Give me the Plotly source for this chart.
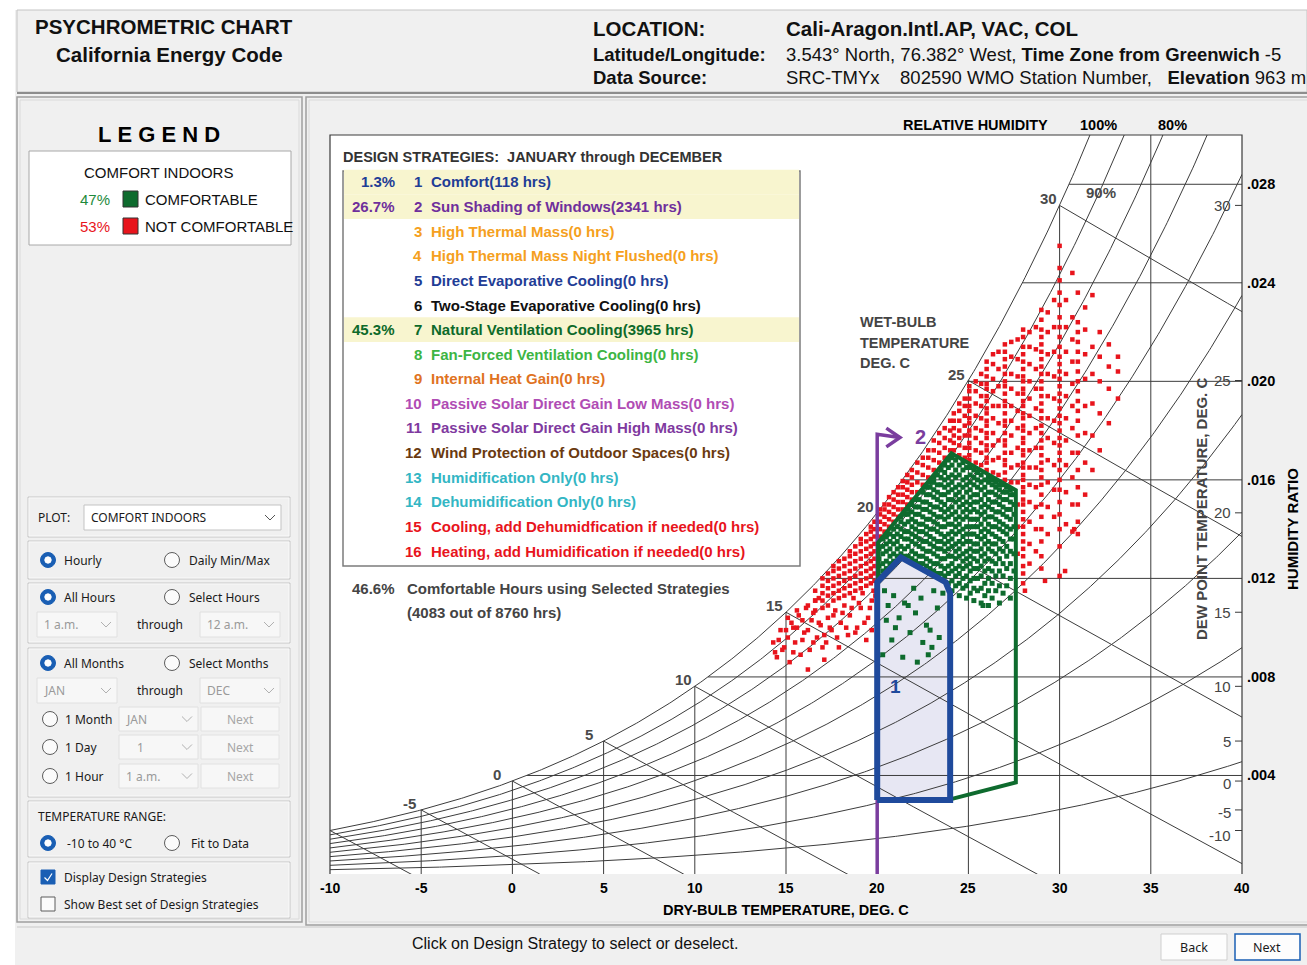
import numpy as np
import plotly.graph_objects as go

FIG_W, FIG_H = 1307, 965
PRESSURE_KPA = 101.325
FONT = "Liberation Sans, Arial, sans-serif"
UI_FONT = "Noto Sans, Liberation Sans, sans-serif"

# ---------------- chart scales ----------------
T_RANGE = [-10, 40]          # dry bulb, deg C
W_RANGE = [0, 30]            # humidity ratio, g/kg
dry_bulb_ticks = [-10, -5, 0, 5, 10, 15, 20, 25, 30, 35, 40]
humidity_ticks = [4, 8, 12, 16, 20, 24, 28]
humidity_tick_text = ['.004', '.008', '.012', '.016', '.020', '.024', '.028']
rh_levels = [0.1, 0.2, 0.3, 0.4, 0.5, 0.6, 0.7, 0.8, 0.9, 1.0]
wet_bulb_levels = [-10, -5, 0, 5, 10, 15, 20, 25, 30]
wet_bulb_labels = [-5, 0, 5, 10, 15, 20, 25, 30]
wet_bulb_label_shift = [-3, -9, -9, -1, -1, -1, -1, -1]
dew_point_levels = [30, 25, 20, 15, 10, 5, 0, -5, -10]
dew_point_label_shift = [0, 0, 0, 0, 0, 0, -2, -3, -5]

# ---------------- design strategies ----------------
strategy_pct = ['1.3%', '26.7%', '', '', '', '', '45.3%', '', '', '', '', '', '', '', '', '']
strategy_names = ['Comfort(118 hrs)', 'Sun Shading of Windows(2341 hrs)', 'High Thermal Mass(0 hrs)',
                  'High Thermal Mass Night Flushed(0 hrs)', 'Direct Evaporative Cooling(0 hrs)',
                  'Two-Stage Evaporative Cooling(0 hrs)', 'Natural Ventilation Cooling(3965 hrs)',
                  'Fan-Forced Ventilation Cooling(0 hrs)', 'Internal Heat Gain(0 hrs)',
                  'Passive Solar Direct Gain Low Mass(0 hrs)', 'Passive Solar Direct Gain High Mass(0 hrs)',
                  'Wind Protection of Outdoor Spaces(0 hrs)', 'Humidification Only(0 hrs)',
                  'Dehumidification Only(0 hrs)', 'Cooling, add Dehumidfication if needed(0 hrs)',
                  'Heating, add Humidification if needed(0 hrs)']
strategy_colors = ['#1f3d96', '#6f2f9c', '#f5a020', '#f5a020', '#1f3d96', '#111111', '#0d6a2a',
                   '#3db544', '#e0731f', '#b04cb4', '#7f3aa0', '#6a3a10', '#33b6c4', '#33b6c4',
                   '#e8141c', '#e8141c']
strategy_highlight = [1, 2, 7]

# ---------------- zones (dry bulb deg C, humidity ratio g/kg) ----------------
comfort_zone_t = [20.0, 20.0, 21.3, 23.75, 24.0, 24.0, 20.0]
comfort_zone_w = [3.0, 11.85, 12.85, 11.85, 11.4, 3.0, 3.0]
vent_zone_t = [24.1, 27.6, 27.6, 24.07, 20.05, 20.05]
vent_zone_w = [3.05, 3.72, 15.58, 17.08, 13.45, 11.9]
shading_t = 20.0
shading_top_w = 17.85
shading_arrow_t = [20.0, 21.22]
shading_head_t = [20.5, 21.25, 20.5]
shading_head_w = [18.1, 17.72, 17.34]

# ---------------- hourly points ----------------
red_upper = [
    (24.2, [17.2, 17.5, 17.8, 18.1, 18.4, 18.7]),
    (24.5, [17.0, 17.4, 17.7, 18.0, 18.4, 18.8, 19.1]),
    (24.8, [16.9, 17.3, 17.8, 18.2, 18.6, 19.0, 19.3]),
    (25.05, [16.8, 17.0, 17.3, 17.5, 17.8, 18.0, 18.3, 18.5, 18.8, 19.0, 19.3, 19.6, 19.8]),
    (25.4, [16.7, 17.2, 17.7, 18.1, 18.6, 19.1, 19.6, 20.0]),
    (25.7, [16.6, 17.1, 17.5, 18.0, 18.5, 19.0, 19.4, 19.9, 20.3]),
    (26.0, [16.4, 16.7, 16.9, 17.2, 17.4, 17.7, 17.9, 18.2, 18.4, 18.7, 18.9, 19.2, 19.4, 19.7, 19.9,
            20.2, 20.5, 20.8]),
    (26.35, [16.3, 16.8, 17.4, 17.9, 18.5, 19.0, 19.6, 20.1, 20.7, 21.1]),
    (26.65, [16.2, 16.9, 17.6, 18.3, 19.0, 19.8, 20.5, 21.2]),
    (27.0, [16.0, 16.3, 16.6, 16.8, 17.1, 17.4, 17.6, 17.9, 18.2, 18.4, 18.7, 19.0, 19.2, 19.5, 19.8,
            20.0, 20.3, 20.6, 20.9, 21.2, 21.5]),
    (27.35, [15.9, 16.5, 17.1, 17.8, 18.4, 19.0, 19.7, 20.3, 21.0, 21.6]),
    (27.7, [13.0, 14.1, 15.0, 15.9, 16.6, 17.3, 18.1, 18.8, 19.5, 20.2, 20.9, 21.7]),
    (28.0, [11.8, 12.2, 12.5, 12.9, 13.2, 13.5, 13.8, 14.1, 14.4, 14.7, 15.0, 15.2, 15.5, 15.7, 16.0,
            16.2, 16.5, 16.7, 17.0, 17.2, 17.5, 17.7, 18.0, 18.2, 18.5, 18.7, 19.0, 19.2, 19.5, 19.7,
            20.0, 20.2, 20.5, 20.8, 21.1, 21.4, 21.8, 22.1]),
    (28.35, [12.6, 13.4, 14.3, 15.1, 15.8, 16.5, 17.2, 17.9, 18.6, 19.3, 20.0, 20.7, 21.4, 22.0]),
    (28.7, [13.1, 14.0, 14.9, 15.7, 16.5, 17.3, 18.1, 18.9, 19.7, 20.5, 21.3, 22.2]),
    (29.0, [12.4, 12.9, 13.5, 14.0, 14.5, 15.0, 15.4, 15.8, 16.1, 16.4, 16.7, 17.0, 17.3, 17.6, 17.9,
            18.2, 18.5, 18.8, 19.1, 19.4, 19.7, 20.0, 20.3, 20.6, 20.9, 21.2, 21.5, 21.8, 22.1, 22.5,
            22.9]),
    (29.35, [13.8, 14.9, 15.9, 16.8, 17.7, 18.5, 19.4, 20.3, 21.1, 22.0, 22.8]),
    (29.7, [14.5, 15.6, 16.6, 17.5, 18.4, 19.3, 20.2, 21.2, 22.2, 23.3]),
    (30.0, [12.1, 13.3, 14.0, 14.6, 15.1, 15.6, 16.0, 16.4, 16.8, 17.1, 17.4, 17.7, 18.0, 18.3, 18.6,
            18.9, 19.2, 19.5, 19.8, 20.1, 20.4, 20.7, 21.0, 21.4, 21.8, 22.2, 22.6, 23.1, 23.6, 24.1,
            24.6, 25.5]),
    (30.35, [14.2, 15.5, 16.6, 17.6, 18.5, 19.4, 20.3, 21.2, 22.2, 23.3]),
    (30.7, [13.9, 15.0, 16.1, 17.1, 18.1, 19.0, 19.9, 20.8, 21.7, 22.6, 24.4]),
    (31.0, [13.8, 14.3, 15.0, 15.7, 16.4, 17.1, 17.8, 18.4, 18.8, 19.2, 19.6, 20.0, 20.4, 20.8, 21.2,
            21.6, 22.0, 22.4, 23.6]),
    (31.4, [15.4, 16.7, 17.9, 19.0, 20.1, 21.1, 22.1, 23.0]),
    (31.8, [16.4, 17.8, 19.1, 20.3, 21.4, 23.5]),
    (32.2, [17.2, 18.7, 20.0, 21.0, 22.0]),
    (32.7, [18.3, 19.7, 20.6, 21.5]),
    (33.2, [19.3, 20.4, 21.0]),
]
red_near_saturation = [
    (16.6, [10.7, 11.1, 11.5]),
    (17.0, [10.8, 11.1, 11.4, 11.7, 12.0]),
    (17.3, [10.9, 11.3, 11.6, 11.9, 12.2]),
    (17.6, [11.1, 11.4, 11.7, 12.0, 12.3, 12.5]),
    (17.9, [11.2, 11.5, 11.8, 12.1, 12.4, 12.7]),
    (18.2, [11.3, 11.6, 11.9, 12.2, 12.5, 12.8]),
    (18.5, [11.4, 11.7, 12.0, 12.3, 12.6, 12.9, 13.1]),
    (18.8, [11.5, 11.8, 12.1, 12.4, 12.7, 13.0, 13.3]),
    (19.1, [11.6, 11.9, 12.2, 12.5, 12.8, 13.1, 13.4, 13.6]),
    (19.4, [11.7, 12.0, 12.3, 12.6, 12.9, 13.2, 13.5, 13.8]),
    (19.65, [11.8, 12.1, 12.4, 12.7, 13.0, 13.3, 13.6, 13.9, 14.1]),
    (19.85, [11.9, 12.2, 12.5, 12.8, 13.1, 13.4, 13.7, 14.0, 14.3]),
    (20.15, [13.7, 14.0, 14.3, 14.6, 14.8]),
    (20.4, [13.9, 14.2, 14.5, 14.8, 15.0]),
    (20.65, [14.1, 14.4, 14.7, 15.0, 15.3]),
    (20.9, [14.3, 14.6, 14.9, 15.2, 15.5]),
    (21.15, [14.5, 14.8, 15.1, 15.4, 15.7]),
    (21.4, [14.8, 15.1, 15.4, 15.7, 15.95]),
    (21.65, [15.0, 15.3, 15.6, 15.9, 16.2]),
    (21.9, [15.2, 15.5, 15.8, 16.1, 16.4]),
    (22.2, [15.5, 15.9, 16.3, 16.7]),
    (22.5, [15.8, 16.2, 16.6, 16.9]),
    (22.8, [16.1, 16.5, 16.9, 17.2]),
    (23.1, [16.4, 16.8, 17.2, 17.6]),
    (23.4, [16.7, 17.1, 17.5, 17.9]),
    (23.7, [16.9, 17.3, 17.7, 18.1]),
    (24.0, [17.2, 17.6, 18.0, 18.4]),
]
red_tail_t = [14.4, 14.6, 14.9, 15.0, 15.2, 15.3, 15.5, 15.7, 15.8, 16.0, 16.1, 16.3, 16.4, 16.6, 16.7,
              16.9, 17.1, 17.2, 17.3, 17.5, 17.7, 17.9, 18.0, 18.2, 18.4, 18.5, 18.7, 18.9, 19.1, 19.2,
              19.4, 19.5, 19.7, 19.8, 16.2, 15.6, 17.0, 28.1, 29.2, 30.3, 30.8,
              14.3, 14.5, 14.7, 14.8, 15.1, 15.1, 15.4, 15.4, 15.6, 15.9, 15.9, 16.2, 16.2, 16.5, 16.5,
              16.8, 16.8, 17.1, 17.4, 17.6, 17.8, 18.1, 18.3, 18.6, 18.8, 19.0, 19.3, 19.6, 19.9, 19.7]
red_tail_w = [9.0, 9.5, 9.2, 9.9, 8.6, 10.2, 9.4, 10.5, 8.9, 9.8, 10.8, 9.1, 10.3, 11.1, 9.6,
              10.1, 8.7, 9.4, 10.4, 9.9, 10.7, 9.2, 10.2, 10.9, 9.7, 10.5, 11.2, 10.0, 10.8, 11.4,
              9.5, 10.4, 11.1, 11.5, 8.3, 10.0, 9.2, 11.5, 11.9, 12.3, 14.0,
              9.4, 8.8, 9.9, 9.1, 9.6, 10.4, 9.0, 10.0, 10.7, 9.5, 10.3, 9.9, 10.9, 9.4, 10.6,
              10.2, 11.2, 9.7, 10.0, 10.5, 9.6, 10.6, 10.0, 10.8, 9.8, 11.0, 10.2, 10.8, 11.3, 9.9]
green_ventilation = [
    (20.1, [12.1, 12.5, 12.8, 13.2]),
    (20.3, [12.3, 12.6, 13.0, 13.3, 13.6]),
    (20.5, [12.4, 12.7, 13.1, 13.4, 13.7]),
    (20.7, [12.6, 12.9, 13.2, 13.5, 13.8]),
    (20.9, [12.7, 13.0, 13.4, 13.7, 14.0]),
    (21.1, [12.9, 13.2, 13.5, 13.8, 14.1]),
    (21.3, [13.0, 13.3, 13.7, 14.0, 14.3, 14.5]),
    (21.5, [12.9, 13.2, 13.6, 13.9, 14.2, 14.6]),
    (21.7, [12.9, 13.3, 13.6, 13.9, 14.3, 14.6, 14.8]),
    (21.9, [12.8, 13.1, 13.5, 13.8, 14.1, 14.4, 14.7, 15.0]),
    (22.1, [12.7, 13.0, 13.4, 13.7, 14.0, 14.3, 14.6, 14.9, 15.2]),
    (22.3, [12.6, 12.9, 13.3, 13.6, 13.9, 14.2, 14.6, 14.9, 15.2]),
    (22.5, [12.6, 12.9, 13.2, 13.5, 13.9, 14.2, 14.5, 14.8, 15.1, 15.5]),
    (22.7, [12.5, 12.8, 13.1, 13.5, 13.8, 14.1, 14.4, 14.8, 15.1, 15.4, 15.7]),
    (22.9, [12.4, 12.7, 13.1, 13.4, 13.7, 14.0, 14.4, 14.7, 15.0, 15.4, 15.7, 15.9]),
    (23.1, [12.3, 12.6, 13.0, 13.3, 13.6, 14.0, 14.3, 14.6, 14.9, 15.3, 15.6, 15.9, 16.1]),
    (23.3, [12.2, 12.6, 12.9, 13.2, 13.5, 13.9, 14.2, 14.5, 14.9, 15.2, 15.5, 15.8, 16.2]),
    (23.5, [12.2, 12.5, 12.8, 13.2, 13.5, 13.8, 14.1, 14.5, 14.8, 15.1, 15.4, 15.8, 16.1, 16.4]),
    (23.7, [12.1, 12.4, 12.8, 13.1, 13.4, 13.7, 14.1, 14.4, 14.7, 15.0, 15.4, 15.7, 16.0, 16.3, 16.6]),
    (23.9, [11.8, 12.2, 12.5, 12.9, 13.2, 13.5, 13.8, 14.2, 14.5, 14.8, 15.2, 15.5, 15.8, 16.1, 16.5,
            16.8]),
    (24.1, [11.5, 11.9, 12.3, 12.6, 12.9, 13.3, 13.6, 13.9, 14.2, 14.6, 14.9, 15.2, 15.6, 15.9, 16.2,
            16.6, 16.9]),
    (24.3, [11.7, 12.1, 12.4, 12.8, 13.1, 13.4, 13.8, 14.1, 14.4, 14.7, 15.1, 15.4, 15.7, 16.1, 16.4,
            16.8]),
    (24.5, [11.3, 11.8, 12.2, 12.5, 12.9, 13.2, 13.5, 13.9, 14.2, 14.5, 14.9, 15.2, 15.5, 15.8, 16.2,
            16.6]),
    (24.7, [11.6, 12.0, 12.4, 12.7, 13.0, 13.4, 13.7, 14.0, 14.4, 14.7, 15.0, 15.3, 15.7, 16.0, 16.4,
            16.7]),
    (24.9, [11.2, 11.7, 12.1, 12.5, 12.8, 13.1, 13.5, 13.8, 14.1, 14.5, 14.8, 15.1, 15.5, 15.8, 16.1,
            16.5]),
    (25.1, [11.4, 11.9, 12.3, 12.6, 12.9, 13.2, 13.5, 13.8, 14.1, 14.4, 14.7, 15.0, 15.3, 15.6, 15.9,
            16.2, 16.5]),
    (25.3, [11.1, 11.6, 12.0, 12.4, 12.8, 13.1, 13.4, 13.8, 14.1, 14.4, 14.8, 15.1, 15.4, 15.8, 16.1,
            16.4]),
    (25.5, [11.5, 12.0, 12.4, 12.7, 13.1, 13.4, 13.7, 14.1, 14.4, 14.7, 15.1, 15.4, 15.7, 16.0, 16.3]),
    (25.7, [11.0, 11.6, 12.1, 12.5, 12.9, 13.2, 13.6, 13.9, 14.2, 14.6, 14.9, 15.2, 15.6, 15.9, 16.2]),
    (25.9, [11.3, 11.8, 12.3, 12.7, 13.0, 13.4, 13.7, 14.0, 14.4, 14.7, 15.0, 15.4, 15.7, 16.0]),
    (26.1, [10.9, 11.5, 12.0, 12.4, 12.8, 13.2, 13.5, 13.9, 14.2, 14.5, 14.9, 15.2, 15.5, 15.9, 16.1]),
    (26.3, [11.2, 11.8, 12.3, 12.7, 13.1, 13.4, 13.8, 14.1, 14.5, 14.8, 15.1, 15.5, 15.8, 16.0]),
    (26.5, [11.5, 12.1, 12.6, 13.0, 13.4, 13.7, 14.1, 14.4, 14.7, 15.1, 15.4, 15.7, 15.9]),
    (26.7, [11.0, 11.7, 12.3, 12.8, 13.2, 13.6, 14.0, 14.3, 14.7, 15.0, 15.3, 15.6, 15.8]),
    (26.9, [11.4, 12.1, 12.6, 13.1, 13.5, 13.9, 14.2, 14.6, 14.9, 15.2, 15.5, 15.8]),
    (27.1, [11.7, 12.4, 12.9, 13.3, 13.8, 14.1, 14.5, 14.8, 15.2, 15.5, 15.7]),
    (27.3, [11.2, 12.0, 12.6, 13.1, 13.6, 14.0, 14.4, 14.8, 15.1, 15.4, 15.6]),
    (27.5, [12.3, 13.0, 13.6, 14.1, 14.6, 15.0, 15.4]),
]
green_comfort_t = [20.4, 20.6, 20.9, 21.2, 21.5, 21.8, 22.1, 22.4, 22.7, 23.0, 23.3, 23.6, 20.8, 21.4,
                   22.2, 22.9, 21.0, 22.5, 20.5, 23.4, 21.7, 22.0, 23.1, 20.3, 22.8, 25.8]
green_comfort_w = [11.5, 10.9, 11.3, 10.4, 11.0, 9.8, 10.6, 11.2, 10.1, 9.2, 10.8, 11.4, 9.5, 8.8,
                   8.6, 9.9, 10.0, 9.4, 10.3, 9.6, 10.9, 11.6, 11.5, 8.9, 8.9, 10.9]


def flatten(cols):
    ts, ws = [], []
    for t, wl in cols:
        for w in wl:
            ts.append(t)
            ws.append(w)
    return ts, ws


# ---------------- psychrometrics (chart furniture) ----------------
def pws(t):
    return 0.61094 * np.exp(17.625 * t / (t + 243.04))


def w_rh(t, rh=1.0):
    p = rh * pws(t)
    return 622.0 * p / (PRESSURE_KPA - p)


def t_dew(w):
    pw = w * PRESSURE_KPA / (622.0 + w)
    a = np.log(pw / 0.61094)
    return 243.04 * a / (17.625 - a)


def w_wetbulb(t, twb):
    ws = w_rh(twb) / 1000.0
    return 1000.0 * ((2501 - 2.326 * twb) * ws - 1.006 * (t - twb)) / (2501 + 1.86 * t - 4.186 * twb)


# ---------------- pixel helpers ----------------
PLOT_L, PLOT_R, PLOT_T, PLOT_B = 330, 1242, 135, 874
shapes, annos = [], []


def px(x):
    return x / FIG_W


def py(y):
    return 1 - y / FIG_H


def rect(x0, y0, x1, y1, fill=None, line=None, lw=1.0, layer='below'):
    shapes.append(dict(type='rect', xref='paper', yref='paper', x0=px(x0), x1=px(x1), y0=py(y1), y1=py(y0),
                       fillcolor=fill if fill else 'rgba(0,0,0,0)',
                       line=dict(color=line if line else 'rgba(0,0,0,0)', width=lw if line else 0),
                       layer=layer))


def circle(cx, cy, r, fill, line=None, lw=1.0):
    shapes.append(dict(type='circle', xref='paper', yref='paper', x0=px(cx - r), x1=px(cx + r),
                       y0=py(cy + r), y1=py(cy - r), fillcolor=fill,
                       line=dict(color=line if line else fill, width=lw), layer='below'))


def pline(points, color, lw=1.0, layer='below'):
    path = 'M ' + ' L '.join('%.5f,%.5f' % (px(a), py(b)) for a, b in points)
    shapes.append(dict(type='path', xref='paper', yref='paper', path=path,
                       line=dict(color=color, width=lw), layer=layer))


def text(x, y, s, size=14, color='#000000', anchor='left', bold=False, family=FONT, angle=0):
    annos.append(dict(xref='paper', yref='paper', x=px(x), y=py(y), text=('<b>%s</b>' % s) if bold else s,
                      showarrow=False, xanchor=anchor, yanchor='middle', textangle=angle,
                      font=dict(size=size, color=color, family=family)))


def chevron(cx, cy, color='#555555'):
    pline([(cx - 5, cy - 2.5), (cx, cy + 2.5), (cx + 5, cy - 2.5)], color, 1.0)


def radio(cx, cy, on):
    if on:
        circle(cx, cy, 7.5, '#1a5fb4')
        circle(cx, cy, 3.2, '#ffffff')
    else:
        circle(cx, cy, 7.5, '#fbfbfb', '#5c5c5c', 1.0)


def dropdown(x0, y0, x1, y1, label, enabled=False, tx=None):
    rect(x0, y0, x1, y1, '#ffffff' if enabled else '#f7f7f7', '#c3c3c3' if enabled else '#e0e0e0', 1)
    text(tx if tx else x0 + 5, (y0 + y1) / 2, label, 12, '#1a1a1a' if enabled else '#9a9a9a', family=UI_FONT)
    chevron(x1 - 11, (y0 + y1) / 2, '#555555' if enabled else '#b0b0b0')


def button(x0, y0, x1, y1, label):
    rect(x0, y0, x1, y1, '#f7f7f7', '#e2e2e2', 1)
    text((x0 + x1) / 2, (y0 + y1) / 2, label, 12, '#a6a6a6', 'center', family=UI_FONT)


# ---------------- page background / panels ----------------
rect(15, 10, 1307, 965, '#f0f0f0')
rect(17, 10, 1307, 92, '#f0f0f0', '#c4c4c4', 1)
pline([(17, 93), (1307, 93)], '#8d8d8d', 2)
rect(17, 97, 302, 922, '#f0f0f0', '#9e9e9e', 1.5)
rect(20, 100, 299, 919, None, '#dadada', 1)
rect(306, 97, 1310, 925, '#f0f0f0', '#9e9e9e', 1.5)
rect(309, 100, 1310, 922, None, '#dadada', 1)
pline([(17, 927), (1307, 927)], '#c8c8c8', 1)
rect(PLOT_L, PLOT_T, PLOT_R, PLOT_B, '#ffffff')

# header
text(33, 27, 'PSYCHROMETRIC CHART', 20.5, '#111111', bold=True)
text(54, 54, 'California Energy Code', 20.5, '#111111', bold=True)
text(591, 29, 'LOCATION:', 20.5, '#111111', bold=True)
text(784, 29, 'Cali-Aragon.Intl.AP, VAC, COL', 20.5, '#111111', bold=True)
text(591, 54, 'Latitude/Longitude:', 18.5, '#111111', bold=True)
text(784, 54, '3.543° North, 76.382° West, <b>Time Zone from Greenwich</b> -5', 18.5, '#111111')
text(591, 78, 'Data Source:', 18.5, '#111111', bold=True)
text(784, 78, 'SRC-TMYx&nbsp;&nbsp;&nbsp; 802590 WMO Station Number,&nbsp;&nbsp; <b>Elevation</b> 963 m', 18.5, '#111111')

# legend
text(159, 134, 'L&nbsp;E&nbsp;G&nbsp;E&nbsp;N&nbsp;D', 22, '#000000', 'center', bold=True)
rect(29, 151, 291, 245, '#ffffff', '#a8a8a8', 1)
text(158, 172, 'COMFORT INDOORS', 15, '#111111', 'center')
text(112, 199, '47%', 15, '#1e8a3c', 'right')
rect(123, 191, 138, 207, '#0e6b2e', '#333333', 1)
text(143, 199, 'COMFORTABLE', 15, '#111111')
text(112, 226, '53%', 15, '#e8141c', 'right')
rect(123, 218, 138, 234, '#e8141c', '#333333', 1)
text(143, 226, 'NOT COMFORTABLE', 15, '#111111')

# control groups
for y0, y1 in [(497, 537), (541, 579), (583, 643), (648, 797), (801, 857), (862, 918)]:
    rect(28, y0, 290, y1, None, '#c6c6c6', 1)
    rect(29, y0 + 1, 289, y1 - 1, None, '#fbfbfb', 0.8)
text(36, 517, 'PLOT:', 12, '#1a1a1a', family=UI_FONT)
dropdown(84, 505, 281, 530, 'COMFORT INDOORS', True)
radio(48, 560, True)
text(62, 560, 'Hourly', 12, '#1a1a1a', family=UI_FONT)
radio(172, 560, False)
text(187, 560, 'Daily Min/Max', 12, '#1a1a1a', family=UI_FONT)
radio(48, 597, True)
text(62, 597, 'All Hours', 12, '#1a1a1a', family=UI_FONT)
radio(172, 597, False)
text(187, 597, 'Select Hours', 12, '#1a1a1a', family=UI_FONT)
dropdown(37, 612, 117, 637, '1 a.m.')
text(160, 624, 'through', 12, '#1a1a1a', 'center', family=UI_FONT)
dropdown(200, 612, 280, 637, '12 a.m.')
radio(48, 663, True)
text(62, 663, 'All Months', 12, '#1a1a1a', family=UI_FONT)
radio(172, 663, False)
text(187, 663, 'Select Months', 12, '#1a1a1a', family=UI_FONT)
dropdown(37, 678, 117, 703, 'JAN')
text(160, 690, 'through', 12, '#1a1a1a', 'center', family=UI_FONT)
dropdown(200, 678, 280, 703, 'DEC')
for yy, lab, dd, ddx in [(719, '1 Month', 'JAN', None), (747, '1 Day', '1', 135), (776, '1 Hour', '1 a.m.', None)]:
    radio(50, yy, False)
    text(63, yy, lab, 12, '#1a1a1a', family=UI_FONT)
    dropdown(119, yy - 12, 198, yy + 12, dd, tx=ddx)
    button(201, yy - 12, 279, yy + 12, 'Next')
text(36, 816, 'TEMPERATURE RANGE:', 12, '#1a1a1a', family=UI_FONT)
radio(48, 843, True)
text(65, 843, '-10 to 40 °C', 12, '#1a1a1a', family=UI_FONT)
radio(172, 843, False)
text(189, 843, 'Fit to Data', 12, '#1a1a1a', family=UI_FONT)
rect(41, 870, 55, 884, '#1a5fb4', '#1a5fb4', 1)
pline([(44.5, 877.5), (47.5, 880.5), (52, 873.5)], '#ffffff', 1.2)
text(62, 877, 'Display Design Strategies', 12, '#1a1a1a', family=UI_FONT)
rect(41, 897, 55, 911, '#fbfbfb', '#5c5c5c', 1)
text(62, 904, 'Show Best set of Design Strategies', 12, '#1a1a1a', family=UI_FONT)

# design strategies box
text(341, 157, 'DESIGN STRATEGIES:&nbsp;&nbsp;JANUARY through DECEMBER', 14.5, '#333333', bold=True)
rect(343, 171, 800, 566, '#ffffff', '#7c7c7c', 1.5)
ROW0, ROWH = 182, 24.6
for i in strategy_highlight:
    yc = ROW0 + (i - 1) * ROWH
    rect(344, yc - ROWH / 2, 799, yc + ROWH / 2, '#f8f5cf')
for i, (pct, name, col) in enumerate(zip(strategy_pct, strategy_names, strategy_colors)):
    yc = ROW0 + i * ROWH
    if pct:
        text(397, yc, pct, 15, col, 'right', bold=True)
    text(424, yc, str(i + 1), 15, col, 'right', bold=True)
    text(429, yc, name, 15, col, bold=True)
text(397, 588, '46.6%', 15, '#444444', 'right', bold=True)
text(405, 588, 'Comfortable Hours using Selected Strategies', 15, '#444444', bold=True)
text(405, 612, '(4083 out of 8760 hrs)', 15, '#444444', bold=True)

# bottom strip
text(575, 943, 'Click on Design Strategy to select or deselect.', 16, '#111111', 'center')
rect(1161, 934, 1227, 960, '#fdfdfd', '#cfcfcf', 1)
text(1194, 947, 'Back', 12.5, '#1a1a1a', 'center', family=UI_FONT)
rect(1235, 934, 1300, 960, '#fdfdfd', '#1a5fb4', 1.5)
text(1267, 947, 'Next', 12.5, '#1a1a1a', 'center', family=UI_FONT)

# ---------------- chart frame and labels ----------------
pline([(PLOT_L, PLOT_B), (PLOT_L, PLOT_T), (PLOT_R, PLOT_T), (PLOT_R, PLOT_B)], '#3a3a3a', 1.2)

for t in dry_bulb_ticks:
    annos.append(dict(xref='x', yref='paper', x=t, y=py(888), text='<b>%d</b>' % t, showarrow=False,
                      xanchor='center', yanchor='middle', font=dict(size=14, color='#000000', family=FONT)))
text(786, 910, 'DRY-BULB TEMPERATURE, DEG. C', 14.5, '#000000', 'center', bold=True)

for w, lab in zip(humidity_ticks, humidity_tick_text):
    annos.append(dict(xref='paper', yref='y', x=px(1245), y=w, text='<b>%s</b>' % lab, showarrow=False,
                      xanchor='left', yanchor='middle', font=dict(size=14.5, color='#000000', family=FONT)))

for tdp, dy in zip(dew_point_levels, dew_point_label_shift):
    wd = float(w_rh(tdp))
    annos.append(dict(xref='paper', yref='y', x=px(1233), y=wd, text=str(tdp), showarrow=False,
                      xanchor='right', yanchor='middle', yshift=dy,
                      font=dict(size=15, color='#444444', family=FONT)))
    shapes.append(dict(type='line', xref='paper', yref='y', x0=px(1235), x1=px(PLOT_R), y0=wd, y1=wd,
                       line=dict(color='#3a3a3a', width=1), layer='above'))

for twb, dx in zip(wet_bulb_labels, wet_bulb_label_shift):
    annos.append(dict(xref='x', yref='y', x=twb, y=float(w_rh(twb)), text='<b>%d</b>' % twb, showarrow=False,
                      xanchor='right', yanchor='bottom', xshift=dx, yshift=-4,
                      font=dict(size=15, color='#4a4a4a', family=FONT)))

text(901, 125, 'RELATIVE HUMIDITY', 14.5, '#000000', bold=True)
text(1078, 125, '100%', 14.5, '#000000', bold=True)
text(1156, 125, '80%', 14.5, '#000000', bold=True)
text(1101, 192, '90%', 15, '#4a4a4a', 'center', bold=True)
text(858, 322, 'WET-BULB', 14.5, '#444444', bold=True)
text(858, 343, 'TEMPERATURE', 14.5, '#444444', bold=True)
text(858, 363, 'DEG. C', 14.5, '#444444', bold=True)
text(1201, 509, 'DEW POINT TEMPERATURE, DEG. C', 15, '#444444', 'center', bold=True, angle=-90)
text(1292, 529, 'HUMIDITY RATIO', 15, '#000000', 'center', bold=True, angle=-90)

# comfort zone fill (below the grid)
shapes.append(dict(type='path', xref='x', yref='y', layer='below',
                   path='M ' + ' L '.join('%g,%g' % (a, b) for a, b in zip(comfort_zone_t, comfort_zone_w)) + ' Z',
                   fillcolor='#e7e7f3', line=dict(width=0)))

# ---------------- grid traces ----------------
gx, gy = [], []
tt = np.arange(T_RANGE[0], T_RANGE[1] + 0.001, 0.1)
for rh in rh_levels:
    gx += list(tt) + [None]
    gy += list(w_rh(tt, rh)) + [None]
for twb in wet_bulb_levels:
    t_line = np.arange(twb, T_RANGE[1] + 0.001, 0.1)
    w_line = w_wetbulb(t_line, twb)
    keep = np.concatenate([[True], w_line[:-1] > 0])
    gx += list(t_line[keep]) + [None]
    gy += list(w_line[keep]) + [None]
for t in dry_bulb_ticks[1:-1]:
    gx += [t, t, None]
    gy += [0, min(float(w_rh(t)), W_RANGE[1]), None]
for w in humidity_ticks:
    gx += [float(t_dew(w)), T_RANGE[1], None]
    gy += [w, w, None]

fig = go.Figure()
fig.add_trace(go.Scatter(x=gx, y=gy, mode='lines', line=dict(color='#3c3c3c', width=1), hoverinfo='skip'))

# hourly points
rt1, rw1 = flatten(red_upper)
rt2, rw2 = flatten(red_near_saturation)
red_t = rt1 + rt2 + red_tail_t
red_w = rw1 + rw2 + red_tail_w
gt1, gw1 = flatten(green_ventilation)
green_t = gt1 + green_comfort_t
green_w = gw1 + green_comfort_w
fig.add_trace(go.Scatter(x=red_t, y=red_w, mode='markers', name='NOT COMFORTABLE',
                         marker=dict(symbol='square', size=4.5, color='#e8141c', line=dict(width=0))))
fig.add_trace(go.Scatter(x=green_t, y=green_w, mode='markers', name='COMFORTABLE',
                         marker=dict(symbol='square', size=5, color='#0e6b2e', line=dict(width=0))))

# strategy outlines
purple = '#7a3d9e'
fig.add_trace(go.Scatter(x=[shading_t, shading_t, shading_arrow_t[1]], y=[0, shading_top_w, shading_top_w - 0.13],
                         mode='lines', line=dict(color=purple, width=3.5), hoverinfo='skip'))
fig.add_trace(go.Scatter(x=shading_head_t, y=shading_head_w, mode='lines',
                         line=dict(color=purple, width=3.5), hoverinfo='skip'))
fig.add_trace(go.Scatter(x=vent_zone_t, y=vent_zone_w, mode='lines',
                         line=dict(color='#0e6b2e', width=4), hoverinfo='skip'))
fig.add_trace(go.Scatter(x=comfort_zone_t, y=comfort_zone_w, mode='lines',
                         line=dict(color='#1f4a9c', width=6), hoverinfo='skip'))
annos.append(dict(xref='x', yref='y', x=21.0, y=7.6, text='<b>1</b>', showarrow=False,
                  font=dict(size=19, color='#1f4a9c', family=FONT)))
annos.append(dict(xref='x', yref='y', x=22.4, y=17.75, text='<b>2</b>', showarrow=False,
                  font=dict(size=20, color=purple, family=FONT)))

fig.update_layout(
    width=FIG_W, height=FIG_H, margin=dict(l=0, r=0, t=0, b=0),
    paper_bgcolor='#ffffff', plot_bgcolor='rgba(0,0,0,0)', showlegend=False,
    xaxis=dict(domain=[px(PLOT_L), px(PLOT_R)], range=T_RANGE, visible=False, fixedrange=True),
    yaxis=dict(domain=[py(PLOT_B), py(PLOT_T)], range=W_RANGE, visible=False, fixedrange=True),
    shapes=shapes, annotations=annos, font=dict(family=FONT),
)
fig.write_html("out.html", config={'displayModeBar': False},
               post_script="document.body.style.margin='0';document.body.style.overflow='hidden';")
